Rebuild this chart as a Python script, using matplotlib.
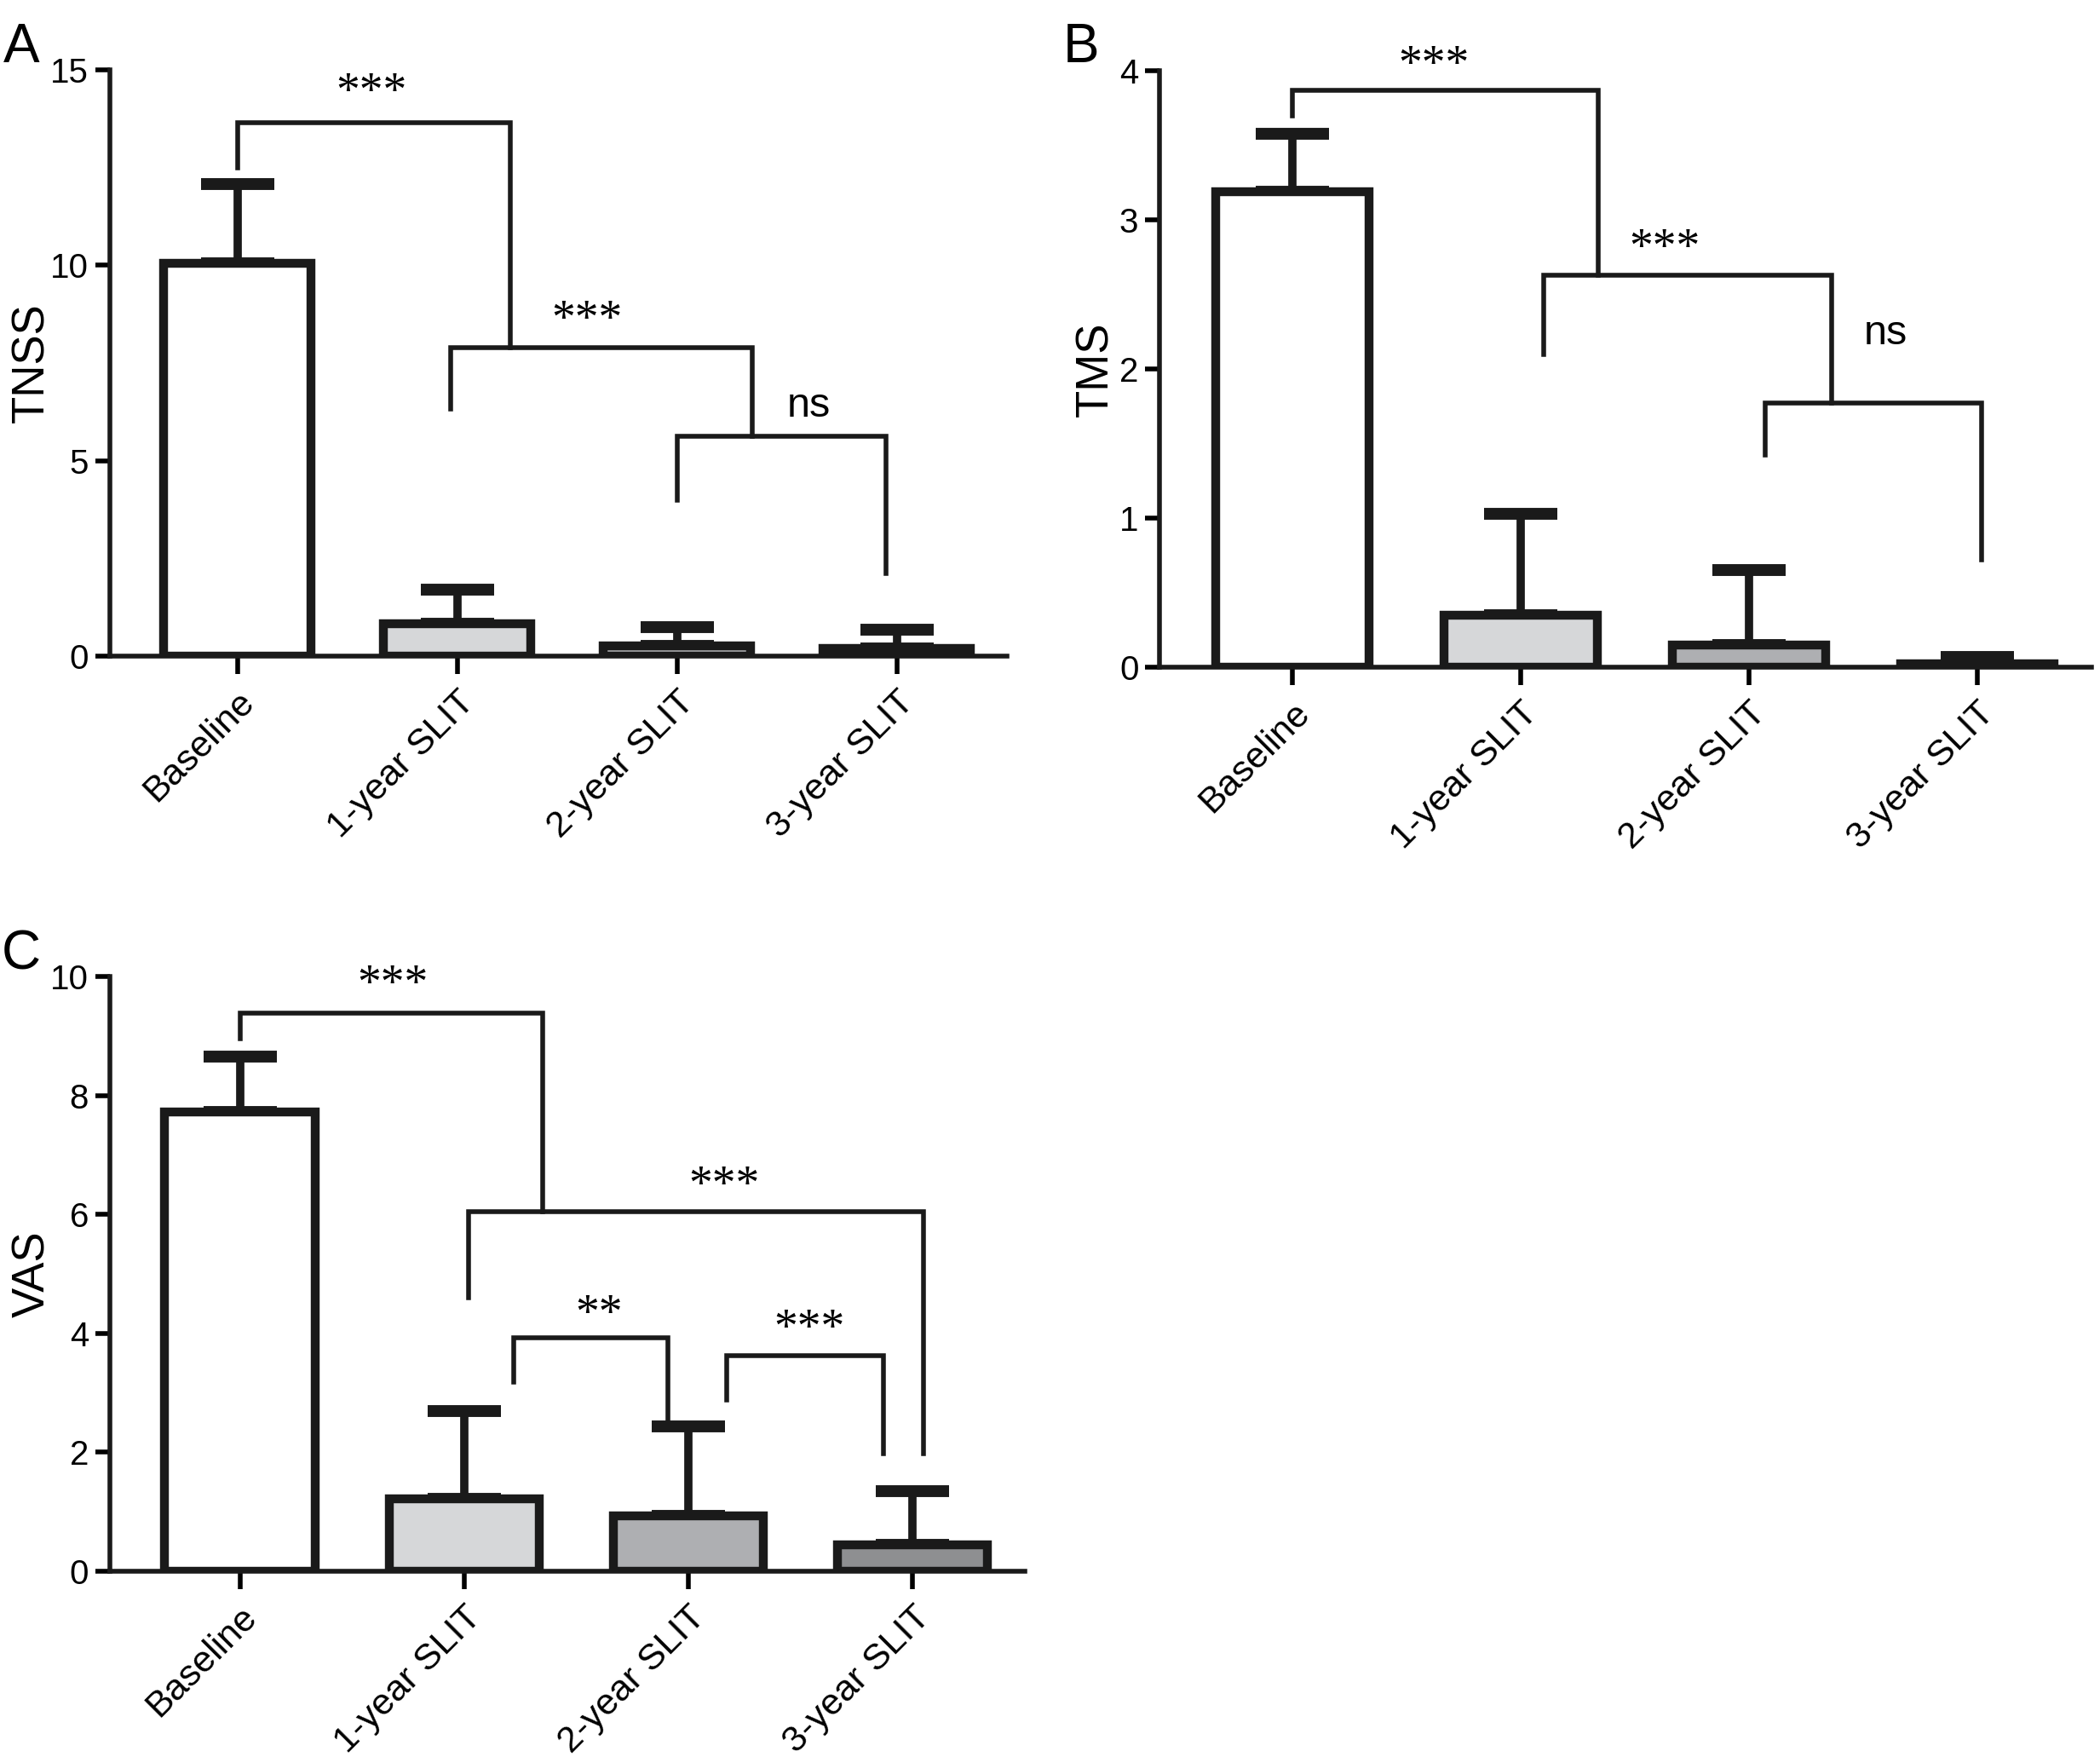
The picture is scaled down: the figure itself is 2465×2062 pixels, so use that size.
import matplotlib.pyplot as plt
import numpy as np

groups = ["Baseline", "1-year SLIT", "2-year SLIT", "3-year SLIT"]

# panel A - TNSS
tnss_mean = [10.05, 0.82, 0.27, 0.20]
tnss_sd = [2.04, 0.89, 0.48, 0.48]
# panel B - TMS
tms_mean = [3.19, 0.35, 0.15, 0.02]
tms_sd = [0.39, 0.68, 0.50, 0.05]
# panel C - VAS
vas_mean = [7.72, 1.22, 0.93, 0.45]
vas_sd = [0.93, 1.48, 1.50, 0.90]

# brackets: (x_left, x_right, y_top, y_left_end, y_right_end, label, x_text, y_text)
tnss_brackets = [
    (0.0, 1.24, 13.66, 12.5, 7.9, "***", 0.61, 14.4),
    (0.97, 2.34, 7.9, 6.33, 5.62, "***", 1.59, 8.56),
    (2.0, 2.95, 5.62, 4.0, 2.12, "ns", 2.6, 6.4),
]
tms_brackets = [
    (0.0, 1.34, 3.87, 3.70, 2.63, "***", 0.62, 4.03),
    (1.10, 2.36, 2.63, 2.10, 1.77, "***", 1.63, 2.80),
    (2.07, 3.02, 1.77, 1.42, 0.72, "ns", 2.60, 2.24),
]
vas_brackets = [
    (0.0, 1.35, 9.39, 8.96, 6.04, "***", 0.68, 9.84),
    (1.02, 3.05, 6.04, 4.6, 1.98, "***", 2.16, 6.46),
    (1.22, 1.91, 3.92, 3.18, 2.43, "**", 1.60, 4.30),
    (2.17, 2.87, 3.63, 2.88, 1.98, "***", 2.54, 4.05),
]

ink = "#1a1a1a"

plt.rcParams['font.family'] = ['Liberation Sans', 'DejaVu Sans']

fig = plt.figure(figsize=(24.65, 20.62), dpi=100)


def draw_panel(rect, means, sds, ymax, yticks, ylabel, brackets, bar_colors, label_x):
    ax = fig.add_axes(rect)
    x = np.arange(len(groups))
    ax.errorbar(x, means, yerr=[np.zeros(len(sds)), sds], fmt='none',
                ecolor=ink, elinewidth=7, capsize=31, capthick=10, zorder=1)
    ax.bar(x, means, width=0.67, color=bar_colors, edgecolor=ink,
           linewidth=7.5, zorder=2)
    for xl, xr, yt, yl, yr, lab, xt, ytt in brackets:
        ax.plot([xl, xl, xr, xr], [yl, yt, yt, yr], color=ink, lw=4,
                solid_joinstyle='miter', clip_on=False)
        if lab == "ns":
            ax.text(xt, ytt, lab, ha='center', va='center', fontsize=35)
        else:
            ax.text(xt, ytt, lab, ha='center', va='center', fontsize=40,
                    family='Liberation Serif')
    ax.set_xlim(-0.58, 3.5)
    ax.set_ylim(0, ymax)
    ax.set_yticks(yticks)
    ax.set_xticks(x)
    ax.set_xticklabels(groups, rotation=45, ha='right', rotation_mode='anchor',
                       fontsize=31)
    ax.tick_params(axis='y', labelsize=29, length=12, width=4, pad=6)
    ax.tick_params(axis='x', length=15, width=4, pad=9)
    for s in ['top', 'right']:
        ax.spines[s].set_visible(False)
    for s in ['left', 'bottom']:
        ax.spines[s].set_linewidth(4)
        ax.spines[s].set_color(ink)
    ax.set_ylabel(ylabel, fontsize=38)
    ax.yaxis.set_label_coords(label_x, 0.5)
    return ax


axA = draw_panel([0.0523, 0.6266, 0.4272, 0.3336], tnss_mean, tnss_sd, 15,
                 [0, 5, 10, 15], "TNSS", tnss_brackets,
                 ["#ffffff", "#d6d7d9", "#aeafb2", "#98999b"], -0.063)
axB = draw_panel([0.5523, 0.6203, 0.4437, 0.3394], tms_mean, tms_sd, 4,
                 [0, 1, 2, 3, 4], "TMS", tms_brackets,
                 ["#ffffff", "#d6d7d9", "#aeafb2", "#98999b"], -0.046)
axC = draw_panel([0.0523, 0.1057, 0.4357, 0.3385], vas_mean, vas_sd, 10,
                 [0, 2, 4, 6, 8, 10], "VAS", vas_brackets,
                 ["#ffffff", "#d6d7d9", "#aeafb2", "#8e8f91"], -0.061)

fig.text(0.0102, 0.973, "A", fontsize=46, va='center', ha='center')
fig.text(0.515, 0.973, "B", fontsize=46, va='center', ha='center')
fig.text(0.0102, 0.4566, "C", fontsize=46, va='center', ha='center')

fig.savefig("out.png", dpi=100, facecolor='white')
